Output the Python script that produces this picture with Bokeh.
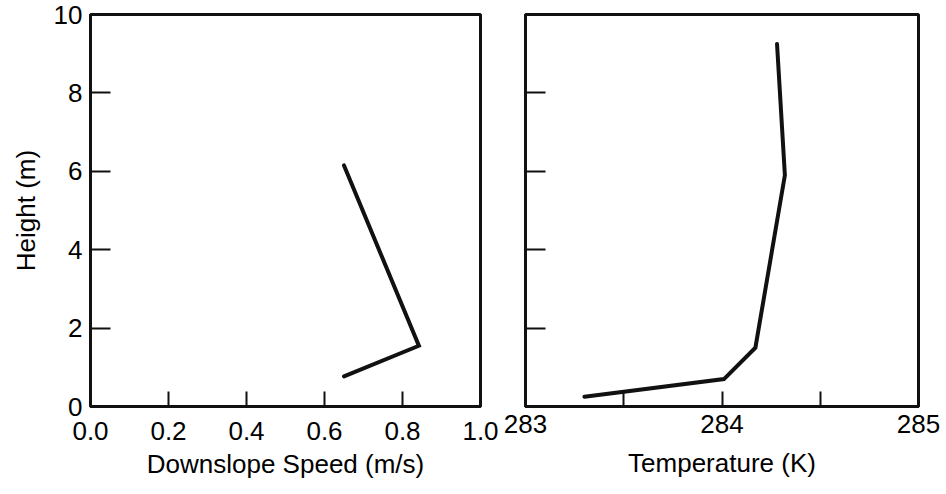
from bokeh.plotting import figure
from bokeh.layouts import row
from bokeh.models import Range1d, FixedTicker
from bokeh.embed import file_html
from bokeh.resources import INLINE

# Data
speed_height = [6.15, 1.55, 0.77]
speed_values = [0.65, 0.842, 0.65]

temp_height = [9.25, 5.9, 1.5, 0.7, 0.25]
temp_values = [284.28, 284.32, 284.17, 284.01, 283.30]

height_ticks = [0, 2, 4, 6, 8, 10]
speed_ticks = [0.0, 0.2, 0.4, 0.6, 0.8, 1.0]
speed_tick_labels = ["0.0", "0.2", "0.4", "0.6", "0.8", "1.0"]
temp_ticks = [283, 283.5, 284, 284.5, 285]
temp_tick_labels = ["283", "", "284", "", "285"]

FONT = "Liberation Sans"
TICK_SIZE = "26px"
LABEL_SIZE = "26px"
INK = "#111111"


def style(p):
    p.outline_line_color = INK
    p.outline_line_width = 3
    p.outline_line_alpha = 1.0
    p.background_fill_color = "white"
    p.border_fill_color = "white"
    p.xgrid.visible = False
    p.ygrid.visible = False
    for ax in (p.xaxis[0], p.yaxis[0]):
        ax.axis_line_color = INK
        ax.axis_line_width = 3
        ax.major_tick_line_color = INK
        ax.major_tick_line_width = 2
        ax.major_tick_out = 0
        ax.minor_tick_line_color = None
        ax.major_label_text_font = FONT
        ax.major_label_text_font_size = TICK_SIZE
        ax.major_label_text_color = "black"
        ax.axis_label_text_font = FONT
        ax.axis_label_text_font_size = LABEL_SIZE
        ax.axis_label_text_font_style = "normal"
        ax.axis_label_text_color = "black"
    p.xaxis[0].major_tick_in = 15
    p.yaxis[0].major_tick_in = 20


left = figure(width=500, height=494, output_backend="svg", toolbar_location=None,
              x_range=Range1d(0, 1), y_range=Range1d(0, 10),
              min_border_left=90, min_border_right=20,
              min_border_top=14, min_border_bottom=88)
style(left)
left.xaxis[0].ticker = FixedTicker(ticks=speed_ticks)
left.xaxis[0].major_label_overrides = {t: s for t, s in zip(speed_ticks, speed_tick_labels)}
left.yaxis[0].ticker = FixedTicker(ticks=height_ticks)
left.xaxis[0].axis_label = "Downslope Speed (m/s)"
left.yaxis[0].axis_label = "Height (m)"
left.xaxis[0].major_label_standoff = 15
left.xaxis[0].axis_label_standoff = 6
left.yaxis[0].major_label_standoff = 8
left.yaxis[0].axis_label_standoff = 10
left.line(speed_values, speed_height, line_color=INK, line_width=4,
          line_join="miter", line_cap="round")

right = figure(width=446, height=494, output_backend="svg", toolbar_location=None,
               x_range=Range1d(283, 285), y_range=Range1d(0, 10),
               min_border_left=25, min_border_right=28,
               min_border_top=14, min_border_bottom=88)
style(right)
right.xaxis[0].ticker = FixedTicker(ticks=temp_ticks)
right.xaxis[0].major_label_overrides = {t: s for t, s in zip(temp_ticks, temp_tick_labels)}
right.yaxis[0].ticker = FixedTicker(ticks=height_ticks)
right.yaxis[0].major_label_overrides = {t: "" for t in height_ticks}
right.xaxis[0].axis_label = "Temperature (K)"
right.xaxis[0].major_label_standoff = 8
right.xaxis[0].axis_label_standoff = 12
right.yaxis[0].major_label_standoff = 0
right.line(temp_values, temp_height, line_color=INK, line_width=4,
           line_join="miter", line_cap="round")

p = row(left, right, spacing=0)
open("out.html", "w").write(file_html(p, INLINE))
